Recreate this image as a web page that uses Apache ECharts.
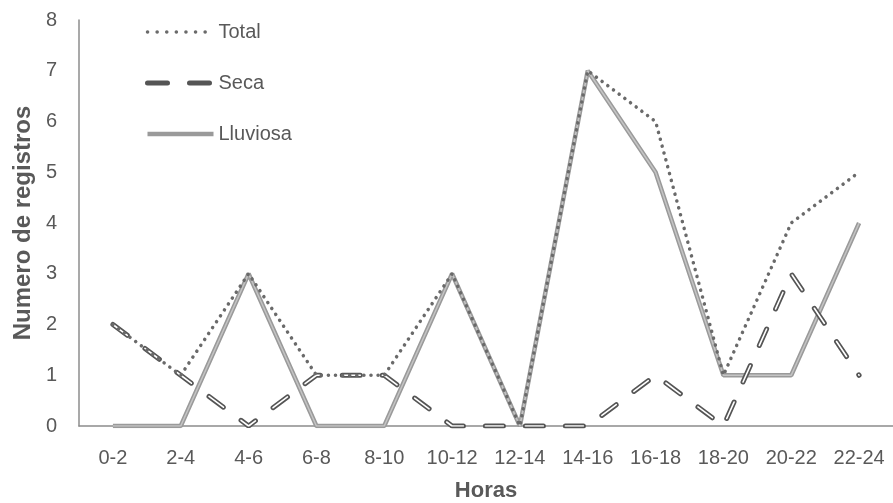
<!DOCTYPE html>
<html><head><meta charset="utf-8">
<script src="https://cdn.jsdelivr.net/npm/echarts@6/dist/echarts.min.js"></script>
<style>html,body{margin:0;padding:0;background:#fff}#c{width:893px;height:503px}</style>
</head><body><div id="c"></div>
<script>
const categories = ['0-2','2-4','4-6','6-8','8-10','10-12','12-14','14-16','16-18','18-20','20-22','22-24'];
const total = [2,1,3,1,1,3,0,7,6,1,4,5];
const seca = [2,1,0,1,1,0,0,0,1,0,3,1];
const lluviosa = [0,0,3,0,0,3,0,7,5,1,1,4];
const yTicks = [0,1,2,3,4,5,6,7,8];

const font = 'Liberation Sans';
const txt = '#595959';
const chart = echarts.init(document.getElementById('c'));
chart.setOption({
  animation: false,
  textStyle: {fontFamily: font},
  grid: {left: 79, right: 0, top: 20, bottom: 77, outerBoundsMode: 'none', containLabel: false},
  legend: {
    orient: 'vertical', left: 140, top: 17, itemGap: 31, itemWidth: 66, itemHeight: 12,
    data: [
      {name: 'Total', lineStyle: {width: 3.5, type: [0.1, 9.5], cap: 'round', color: '#6a6a6a'}},
      {name: 'Seca', lineStyle: {width: 5, type: [20, 22], cap: 'round', color: '#555'}},
      {name: 'Lluviosa', lineStyle: {width: 4.5, color: '#9a9a9a'}}
    ],
    itemStyle: {opacity: 0},
    textStyle: {color: txt, fontSize: 20, fontFamily: font}
  },
  xAxis: {
    type: 'category', data: categories, boundaryGap: true,
    name: 'Horas', nameLocation: 'middle', nameGap: 54,
    nameTextStyle: {color: txt, fontSize: 22, fontWeight: 'bold'},
    axisLine: {lineStyle: {color: '#8c8c8c', width: 1.5}},
    axisTick: {show: false},
    axisLabel: {color: txt, fontSize: 20, margin: 22, interval: 0}
  },
  yAxis: {
    type: 'value', min: yTicks[0], max: yTicks[yTicks.length-1], interval: 1,
    name: 'Numero de registros', nameLocation: 'middle', nameGap: 44, nameRotate: 90,
    nameTextStyle: {color: txt, fontSize: 24, fontWeight: 'bold'},
    axisLine: {show: true, lineStyle: {color: '#8c8c8c', width: 1.5}},
    axisTick: {show: false},
    splitLine: {show: false},
    axisLabel: {color: txt, fontSize: 20, margin: 22}
  },
  series: [
    {name: 'Lluviosa', type: 'line', data: lluviosa, symbol: 'none', z: 2,
     lineStyle: {color: '#9a9a9a', width: 4.5}, itemStyle: {color: '#9a9a9a'}},
    {name: 'lluv-in', type: 'line', data: lluviosa, symbol: 'none', z: 3, silent: true,
     lineStyle: {color: '#c4c4c4', width: 1.5}},
    {name: 'Seca', type: 'line', data: seca, symbol: 'none', z: 4,
     lineStyle: {color: '#555', width: 5, type: [18, 22], cap: 'round'}, itemStyle: {color: '#555'}},
    {name: 'seca-in', type: 'line', data: seca, symbol: 'none', z: 5, silent: true,
     lineStyle: {color: '#fff', width: 1.6, type: [18, 22], cap: 'round'}},
    {name: 'Total', type: 'line', data: total, symbol: 'none', z: 6,
     lineStyle: {color: '#6a6a6a', width: 3.5, type: [0.1, 7], cap: 'round'}, itemStyle: {color: '#6a6a6a'}}
  ]
});
</script></body></html>
